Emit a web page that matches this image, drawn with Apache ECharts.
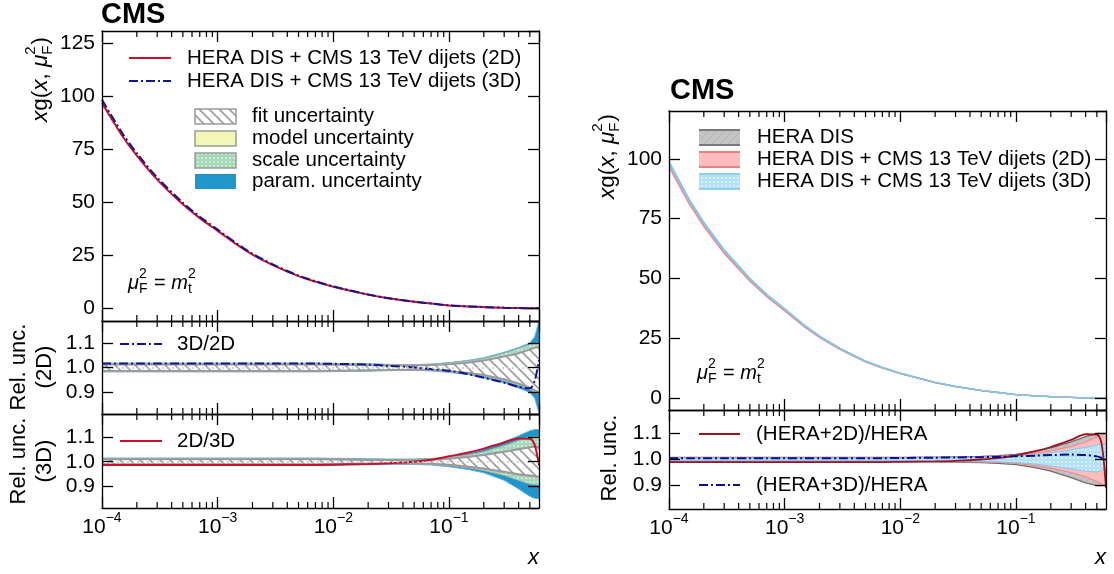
<!DOCTYPE html>
<html>
<head>
<meta charset="utf-8">
<title>CMS gluon PDF</title>
<script src="https://cdn.jsdelivr.net/npm/echarts@6.0.0/dist/echarts.min.js"></script>
<style>
html,body{margin:0;padding:0;background:#ffffff;}
#chart{width:1114px;height:574px;}
</style>
</head>
<body>
<div id="chart"></div>
<script>
// ---------------- data ----------------
const xValues = [1e-4, 1.5e-4, 2e-4, 3e-4, 5e-4, 7e-4, 1e-3, 1.5e-3, 2e-3, 3e-3, 5e-3, 7e-3, 1e-2, 2e-2, 3e-2, 5e-2, 0.07, 0.1, 0.15, 0.2, 0.3, 0.4, 0.5, 0.55, 0.6];

// left main panel: xg(x) for HERA DIS + CMS dijets (2D)
const gluon2D = [97.0, 81.4, 72.1, 60.8, 49.1, 42.6, 36.6, 29.7, 25.4, 20.4, 15.2, 12.6, 10.2, 6.45, 4.75, 3.1, 2.28, 1.38, 0.87, 0.56, 0.24, 0.095, 0.032, 0.016, 0.007];
// right main panel: xg(x) for HERA DIS
const gluonHERA = [98.0, 82.2, 72.8, 61.4, 49.6, 43.0, 37.0, 30.0, 25.7, 20.6, 15.3, 12.7, 10.3, 6.5, 4.8, 3.15, 2.3, 1.4, 0.88, 0.57, 0.24, 0.095, 0.032, 0.016, 0.007];

// left ratio panel (2D)
const ratio3Dto2D = [1.016,1.016,1.016,1.016,1.016,1.016,1.016,1.016,1.016,1.016,1.016,1.016,1.015,1.012,1.007,1.000,0.994,0.987,0.972,0.958,0.938,0.921,0.915,0.945,1.030];
const fit2DHi   = [1.012,1.012,1.012,1.012,1.012,1.012,1.012,1.012,1.012,1.012,1.012,1.012,1.011,1.009,1.008,1.008,1.010,1.013,1.020,1.028,1.044,1.058,1.073,1.080,1.086];
const fit2DLo   = [0.986,0.986,0.986,0.986,0.986,0.986,0.986,0.986,0.986,0.986,0.986,0.986,0.987,0.989,0.990,0.991,0.990,0.986,0.978,0.970,0.952,0.935,0.918,0.908,0.900];
const model2DHi = [1.013,1.013,1.013,1.013,1.013,1.013,1.013,1.013,1.013,1.013,1.013,1.013,1.012,1.010,1.009,1.009,1.011,1.015,1.022,1.030,1.046,1.060,1.075,1.082,1.088];
const model2DLo = [0.985,0.985,0.985,0.985,0.985,0.985,0.985,0.985,0.985,0.985,0.985,0.985,0.986,0.988,0.989,0.990,0.989,0.985,0.976,0.968,0.950,0.932,0.915,0.905,0.897];
const scale2DHi = [1.015,1.015,1.015,1.015,1.015,1.015,1.015,1.015,1.015,1.015,1.015,1.015,1.014,1.012,1.011,1.011,1.013,1.018,1.027,1.036,1.058,1.078,1.093,1.098,1.100];
const scale2DLo = [0.984,0.984,0.984,0.984,0.984,0.984,0.984,0.984,0.984,0.984,0.984,0.984,0.985,0.987,0.988,0.989,0.988,0.983,0.974,0.965,0.946,0.928,0.910,0.900,0.893];
const param2DHi = [1.018,1.018,1.018,1.018,1.018,1.018,1.018,1.018,1.018,1.018,1.018,1.018,1.017,1.015,1.013,1.012,1.014,1.020,1.030,1.040,1.062,1.082,1.100,1.125,1.190];
const param2DLo = [0.982,0.982,0.982,0.982,0.982,0.982,0.982,0.982,0.982,0.982,0.982,0.982,0.983,0.985,0.987,0.988,0.986,0.980,0.970,0.958,0.938,0.916,0.898,0.875,0.815];

// left ratio panel (3D)
const ratio2Dto3D = [0.987,0.987,0.987,0.987,0.987,0.987,0.987,0.987,0.987,0.987,0.987,0.987,0.988,0.991,0.994,1.000,1.008,1.022,1.038,1.053,1.078,1.094,1.093,1.068,0.985];
const fit3DHi   = [1.010,1.010,1.010,1.010,1.010,1.010,1.010,1.010,1.010,1.010,1.010,1.010,1.009,1.007,1.007,1.007,1.008,1.012,1.020,1.027,1.040,1.050,1.058,1.060,1.060];
const fit3DLo   = [0.990,0.990,0.990,0.990,0.990,0.990,0.990,0.990,0.990,0.990,0.990,0.990,0.991,0.993,0.993,0.993,0.992,0.988,0.980,0.973,0.960,0.950,0.945,0.943,0.940];
const model3DHi = [1.011,1.011,1.011,1.011,1.011,1.011,1.011,1.011,1.011,1.011,1.011,1.011,1.010,1.008,1.008,1.008,1.009,1.014,1.022,1.030,1.043,1.053,1.061,1.063,1.063];
const model3DLo = [0.989,0.989,0.989,0.989,0.989,0.989,0.989,0.989,0.989,0.989,0.989,0.989,0.990,0.992,0.992,0.992,0.991,0.986,0.977,0.970,0.956,0.946,0.940,0.938,0.936];
const scale3DHi = [1.012,1.012,1.012,1.012,1.012,1.012,1.012,1.012,1.012,1.012,1.012,1.012,1.011,1.009,1.009,1.009,1.011,1.017,1.028,1.040,1.065,1.085,1.100,1.100,1.100];
const scale3DLo = [0.988,0.988,0.988,0.988,0.988,0.988,0.988,0.988,0.988,0.988,0.988,0.988,0.989,0.991,0.991,0.991,0.990,0.985,0.975,0.965,0.945,0.925,0.910,0.908,0.905];
const param3DHi = [1.015,1.015,1.015,1.015,1.015,1.015,1.015,1.015,1.015,1.015,1.015,1.015,1.014,1.012,1.011,1.011,1.013,1.020,1.035,1.050,1.080,1.105,1.125,1.130,1.130];
const param3DLo = [0.985,0.985,0.985,0.985,0.985,0.985,0.985,0.985,0.985,0.985,0.985,0.985,0.986,0.988,0.989,0.989,0.987,0.980,0.968,0.955,0.925,0.890,0.860,0.852,0.850];

// right ratio panel
const heraHi = [1.008,1.008,1.008,1.008,1.008,1.008,1.008,1.008,1.008,1.008,1.008,1.008,1.008,1.009,1.010,1.012,1.015,1.020,1.032,1.045,1.068,1.088,1.100,1.100,1.100];
const heraLo = [0.992,0.992,0.992,0.992,0.992,0.992,0.992,0.992,0.992,0.992,0.992,0.992,0.992,0.991,0.990,0.988,0.985,0.980,0.968,0.955,0.930,0.910,0.900,0.900,0.900];
const hera2DHi = [1.006,1.006,1.006,1.006,1.006,1.006,1.006,1.006,1.006,1.006,1.006,1.006,1.006,1.007,1.008,1.009,1.011,1.015,1.024,1.033,1.050,1.068,1.087,1.095,1.098];
const hera2DLo = [0.994,0.994,0.994,0.994,0.994,0.994,0.994,0.994,0.994,0.994,0.994,0.994,0.994,0.993,0.992,0.991,0.989,0.985,0.976,0.967,0.950,0.934,0.915,0.905,0.900];
const hera3DHi = [1.005,1.005,1.005,1.005,1.005,1.005,1.005,1.005,1.005,1.005,1.005,1.005,1.005,1.006,1.007,1.008,1.009,1.012,1.018,1.025,1.037,1.047,1.055,1.058,1.060];
const hera3DLo = [0.995,0.995,0.995,0.995,0.995,0.995,0.995,0.995,0.995,0.995,0.995,0.995,0.995,0.994,0.993,0.992,0.991,0.988,0.982,0.975,0.963,0.955,0.952,0.958,0.965];
const ratioH2D = [0.990,0.990,0.990,0.990,0.990,0.990,0.990,0.990,0.990,0.990,0.990,0.990,0.991,0.993,0.995,1.000,1.005,1.016,1.033,1.048,1.075,1.097,1.096,1.060,0.890];
const ratioH3D = [1.005,1.005,1.005,1.005,1.005,1.005,1.005,1.005,1.005,1.005,1.005,1.005,1.006,1.007,1.008,1.009,1.010,1.012,1.015,1.017,1.019,1.017,1.012,1.006,1.000];

// axis ticks
const minorTicksX = [2e-4,3e-4,4e-4,5e-4,6e-4,7e-4,8e-4,9e-4, 2e-3,3e-3,4e-3,5e-3,6e-3,7e-3,8e-3,9e-3, 2e-2,3e-2,4e-2,5e-2,6e-2,7e-2,8e-2,9e-2, 0.2,0.3,0.4,0.5];
const xMin = 1e-4, xMax = 0.6;
const yRanges = [[-6, 131], [0.81, 1.19], [0.813, 1.193], [-5, 120], [0.81, 1.19]];
const yStep = [25, 0.1, 0.1, 25, 0.1];

// legend / label texts
const legendMain = ['HERA DIS + CMS 13 TeV dijets (2D)', 'HERA DIS + CMS 13 TeV dijets (3D)'];
const legendUnc = ['fit uncertainty', 'model uncertainty', 'scale uncertainty', 'param. uncertainty'];
const legendRight = ['HERA DIS', 'HERA DIS + CMS 13 TeV dijets (2D)', 'HERA DIS + CMS 13 TeV dijets (3D)'];
const legendRightRatio = ['(HERA+2D)/HERA', '(HERA+3D)/HERA'];

// ---------------- derived tables ----------------
const gluon3D = gluon2D.map((v, i) => v * ratio3Dto2D[i]);
const heraBandLo = gluonHERA.map((v, i) => v * heraLo[i]);
const heraBandHi = gluonHERA.map((v, i) => v * heraHi[i]);
const h2BandLo = gluonHERA.map((v, i) => v * ratioH2D[i] * hera2DLo[i]);
const h2BandHi = gluonHERA.map((v, i) => v * ratioH2D[i] * hera2DHi[i]);
const h3BandLo = gluonHERA.map((v, i) => v * ratioH3D[i] * hera3DLo[i]);
const h3BandHi = gluonHERA.map((v, i) => v * ratioH3D[i] * hera3DHi[i]);

// ---------------- styling helpers ----------------
const FONT = '"Liberation Sans", Arial, Helvetica, sans-serif';
const LEGEND_FONT = '20.5px ' + FONT;
const measureCtx = document.createElement('canvas').getContext('2d');

function makePattern(bg, draw, size) {
  const c = document.createElement('canvas');
  c.width = size; c.height = size;
  const g = c.getContext('2d');
  g.fillStyle = bg; g.fillRect(0, 0, size, size);
  draw(g, size);
  return { image: c, repeat: 'repeat' };
}
function backHatch(color, lw) {
  return function (g, s) {
    g.strokeStyle = color; g.lineWidth = lw; g.beginPath();
    g.moveTo(-1, -1); g.lineTo(s + 1, s + 1);
    g.moveTo(s - 3, -3); g.lineTo(s + 3, 3);
    g.moveTo(-3, s - 3); g.lineTo(3, s + 3);
    g.stroke();
  };
}
function fwdHatch(color, lw) {
  return function (g, s) {
    g.strokeStyle = color; g.lineWidth = lw; g.beginPath();
    g.moveTo(-1, s + 1); g.lineTo(s + 1, -1);
    g.moveTo(-3, 3); g.lineTo(3, -3);
    g.moveTo(s - 3, s + 3); g.lineTo(s + 3, s - 3);
    g.stroke();
  };
}
function dots(color, r) {
  return function (g, s) {
    g.fillStyle = color; g.beginPath(); g.arc(s / 2, s / 2, r, 0, Math.PI * 2); g.fill();
  };
}
const fitFill = makePattern('#ffffff', backHatch('#9c9c9c', 1.6), 10);
const scaleFill = makePattern('#a6d9b8', dots('#dcf2e3', 0.9), 4);
const modelFill = '#f2f7b5';
const paramFill = '#2196c9';
const heraFill = makePattern('#c4c4c4', fwdHatch('#b4b4b4', 1), 8);
const h2Fill = '#ffbdbd';
const h3Fill = makePattern('#b3e1f8', dots('#e9f7fe', 0.9), 4);

const RED = '#c8102e', BLUE = '#14148f', DRED = '#a3121e', DBLUE = '#0c0c94';
const DASHDOT = [9, 3, 2, 3];

// ---------------- axes ----------------
const grids = [
  { left: 102, top: 31, width: 437, height: 290 },
  { left: 102, top: 321, width: 437, height: 93 },
  { left: 102, top: 414, width: 437, height: 94 },
  { left: 669, top: 111, width: 437, height: 299 },
  { left: 669, top: 410, width: 437, height: 99 }
];
const showXLabels = [false, false, true, false, true];

function logFmt(v) {
  const l = Math.log10(v);
  const e = Math.round(l);
  if (Math.abs(l - e) > 1e-6) return '';
  return '{b|10}{s|' + (e < 0 ? '\u2212' : '') + Math.abs(e) + '}';
}
const spine = { show: true, onZero: false, lineStyle: { color: '#000', width: 1.3 } };
const tick = { show: true, inside: true, length: 11, lineStyle: { color: '#000', width: 1.3 } };

const xAxes = [], yAxes = [];
grids.forEach((g, gi) => {
  ['bottom', 'top'].forEach((pos, k) => {
    xAxes.push({
      type: 'log', logBase: 10, gridIndex: gi, position: pos, min: xMin, max: xMax, z: 6,
      axisLine: spine, axisTick: tick, splitLine: { show: false }, minorTick: { show: false },
      axisLabel: {
        show: k === 0 && showXLabels[gi], formatter: logFmt, margin: 3, showMaxLabel: false,
        rich: {
          b: { fontSize: 21, fontFamily: FONT, color: '#000', lineHeight: 27, verticalAlign: 'bottom' },
          s: { fontSize: 14, fontFamily: FONT, color: '#000', lineHeight: 27, verticalAlign: 'top' }
        }
      }
    });
  });
  ['left', 'right'].forEach((pos, k) => {
    const step = yStep[gi];
    yAxes.push({
      type: 'value', gridIndex: gi, position: pos, min: yRanges[gi][0], max: yRanges[gi][1],
      minInterval: step, maxInterval: step, z: 6,
      axisLine: spine, axisTick: tick, splitLine: { show: false },
      axisLabel: {
        show: k === 0, fontSize: 21, fontFamily: FONT, color: '#000', margin: 7,
        showMinLabel: false, showMaxLabel: false,
        formatter: function (v) {
          const q = v / step, r = Math.round(q);
          if (Math.abs(q - r) > 1e-6) return '';
          return step < 1 ? (r * step).toFixed(1) : String(Math.round(r * step));
        }
      }
    });
  });
});

// ---------------- series ----------------
function bandSeries(gi, lo, hi, fill, edge, edgeW, z) {
  const rows = xValues.map((x, i) => [x, lo[i], hi[i]]);
  return {
    type: 'custom', xAxisIndex: 2 * gi, yAxisIndex: 2 * gi, z: z, silent: true, animation: false,
    data: rows, encode: { x: 0, y: [1, 2] },
    renderItem: function (params, api) {
      if (params.dataIndex !== 0) return null;
      const cs = params.coordSys;
      const top = rows.map(r => api.coord([r[0], r[2]]));
      const bot = rows.map(r => api.coord([r[0], r[1]]));
      const kids = [{ type: 'polygon', shape: { points: top.concat(bot.slice().reverse()) }, style: { fill: fill, stroke: 'none' } }];
      if (edge) {
        kids.push({ type: 'polyline', shape: { points: top }, style: { stroke: edge, lineWidth: edgeW, fill: 'none' } });
        kids.push({ type: 'polyline', shape: { points: bot }, style: { stroke: edge, lineWidth: edgeW, fill: 'none' } });
      }
      return { type: 'group', clipPath: { type: 'rect', shape: { x: cs.x, y: cs.y, width: cs.width, height: cs.height } }, children: kids };
    }
  };
}
function lineSeries(gi, ys, color, width, dash, z, unity) {
  const s = {
    type: 'line', xAxisIndex: 2 * gi, yAxisIndex: 2 * gi, z: z, silent: true, animation: false,
    data: xValues.map((x, i) => [x, ys[i]]), symbol: 'none', showSymbol: false, smooth: 0.3, clip: true,
    lineStyle: { color: color, width: width, type: dash || 'solid' }
  };
  if (unity) {
    s.markLine = { silent: true, symbol: 'none', animation: false, label: { show: false },
      lineStyle: { color: '#c9c9c9', type: [2, 3], width: 1.6 }, data: [{ yAxis: 1 }] };
  }
  return s;
}
function minorTickSeries(gi) {
  const ymid = (yRanges[gi][0] + yRanges[gi][1]) / 2;
  return {
    type: 'custom', xAxisIndex: 2 * gi, yAxisIndex: 2 * gi, z: 7, silent: true, animation: false,
    data: minorTicksX.map(v => [v, ymid]), encode: { x: 0, y: 1 },
    renderItem: function (params, api) {
      const cs = params.coordSys;
      const px = api.coord([api.value(0), api.value(1)])[0];
      const st = { stroke: '#000', lineWidth: 1.2 };
      return { type: 'group', children: [
        { type: 'line', shape: { x1: px, y1: cs.y + cs.height, x2: px, y2: cs.y + cs.height - 6 }, style: st },
        { type: 'line', shape: { x1: px, y1: cs.y, x2: px, y2: cs.y + 6 }, style: st }
      ] };
    }
  };
}

const series = [
  // left main
  lineSeries(0, gluon2D, RED, 2, 'solid', 3),
  lineSeries(0, gluon3D, BLUE, 2, DASHDOT, 4),
  // left ratio 2D
  bandSeries(1, param2DLo, param2DHi, paramFill, '#5db3de', 1, 2),
  bandSeries(1, scale2DLo, scale2DHi, scaleFill, '#a8b8ad', 1, 2),
  bandSeries(1, model2DLo, model2DHi, modelFill, '#a0a0a0', 1, 2),
  bandSeries(1, fit2DLo, fit2DHi, fitFill, '#9a9a9a', 1.8, 2),
  lineSeries(1, ratio3Dto2D, BLUE, 2, DASHDOT, 4, true),
  // left ratio 3D
  bandSeries(2, param3DLo, param3DHi, paramFill, '#5db3de', 1, 2),
  bandSeries(2, scale3DLo, scale3DHi, scaleFill, '#a8b8ad', 1, 2),
  bandSeries(2, model3DLo, model3DHi, modelFill, '#a0a0a0', 1, 2),
  bandSeries(2, fit3DLo, fit3DHi, fitFill, '#9a9a9a', 1.8, 2),
  lineSeries(2, ratio2Dto3D, RED, 2, 'solid', 4, true),
  // right main
  bandSeries(3, heraBandLo, heraBandHi, heraFill, '#7a7a7a', 1.2, 2),
  bandSeries(3, h2BandLo, h2BandHi, h2Fill, '#f08a8a', 1.2, 2),
  bandSeries(3, h3BandLo, h3BandHi, h3Fill, '#7fc8ee', 1.2, 2),
  // right ratio
  bandSeries(4, heraLo, heraHi, heraFill, '#6e6e6e', 1.3, 2),
  bandSeries(4, hera2DLo, hera2DHi, h2Fill, '#f08a8a', 1.2, 2),
  bandSeries(4, hera3DLo, hera3DHi, h3Fill, '#7fc8ee', 1, 2),
  lineSeries(4, ratioH2D, DRED, 1.8, 'solid', 4),
  lineSeries(4, ratioH3D, DBLUE, 2, DASHDOT, 4)
];
for (let gi = 0; gi < grids.length; gi++) series.push(minorTickSeries(gi));

// ---------------- graphic texts & legends ----------------
function T(x, y, text, opt) {
  opt = opt || {};
  const align = opt.align || 'left';
  return { type: 'text', x: x, y: y, z: 100, rotation: opt.rot || 0, silent: true,
    style: { text: text, x: 0, y: 0, font: opt.font || LEGEND_FONT, fill: '#000',
      textAlign: align, textVerticalAlign: 'middle', align: align, verticalAlign: 'middle' } };
}
function L(x1, y1, x2, y2, color, w, dash) {
  return { type: 'line', z: 100, silent: true, shape: { x1: x1, y1: y1, x2: x2, y2: y2 },
    style: { stroke: color, lineWidth: w, lineDash: dash || null } };
}
function R(x, y, w, h, fill, stroke, lw) {
  return { type: 'rect', z: 100, silent: true, shape: { x: x, y: y, width: w, height: h },
    style: { fill: fill, stroke: stroke || 'none', lineWidth: lw || 0 } };
}
function mathGroup(x, y, rot, parts, fs) {
  const kids = []; let cx = 0;
  parts.forEach(p => {
    if (p.t !== undefined) {
      const f = (p.it ? 'italic ' : '') + fs + 'px ' + FONT;
      kids.push({ type: 'text', x: cx, y: 0, style: { text: p.t, font: f, fill: '#000', textAlign: 'left', textVerticalAlign: 'middle', align: 'left', verticalAlign: 'middle' } });
      measureCtx.font = f; cx += measureCtx.measureText(p.t).width;
    } else {
      const f = Math.round(fs * 0.68) + 'px ' + FONT;
      measureCtx.font = f; let w = 0;
      kids.push({ type: 'text', x: cx, y: fs * 0.32, style: { text: p.sub, font: f, fill: '#000', textAlign: 'left', textVerticalAlign: 'middle', align: 'left', verticalAlign: 'middle' } });
      w = Math.max(w, measureCtx.measureText(p.sub).width);
      kids.push({ type: 'text', x: cx, y: -fs * 0.44, style: { text: p.sup, font: f, fill: '#000', textAlign: 'left', textVerticalAlign: 'middle', align: 'left', verticalAlign: 'middle' } });
      w = Math.max(w, measureCtx.measureText(p.sup).width);
      cx += w + 1;
    }
  });
  return { type: 'group', x: x, y: y, rotation: rot, z: 100, silent: true, children: kids };
}
const yTitleParts = [{ t: 'x', it: true }, { t: 'g' }, { t: '(' }, { t: 'x', it: true }, { t: ', ' }, { t: '\u03bc', it: true }, { sub: 'F', sup: '2' }, { t: ')' }];
const scaleParts = [{ t: '\u03bc', it: true }, { sub: 'F', sup: '2' }, { t: ' = ' }, { t: 'm', it: true }, { sub: 't', sup: '2' }];
const ROT = Math.PI / 2;

const graphics = [
  T(101, 15, 'CMS', { font: 'bold 29px ' + FONT }),
  T(670, 91, 'CMS', { font: 'bold 29px ' + FONT }),
  mathGroup(41, 122, ROT, yTitleParts, 22.5),
  mathGroup(608, 199, ROT, yTitleParts, 22.5),
  mathGroup(128, 283, 0, scaleParts, 20),
  mathGroup(697, 373, 0, scaleParts, 20),
  // left main legend
  L(129, 58, 171, 58, RED, 2), T(187, 58, legendMain[0]),
  L(129, 81, 171, 81, BLUE, 2, DASHDOT), T(187, 81, legendMain[1]),
  R(195, 109, 41, 15, fitFill, '#9a9a9a', 1.5), T(252, 116, legendUnc[0]),
  R(195, 131, 41, 15, modelFill, '#9a9a9a', 1.5), T(252, 138, legendUnc[1]),
  R(195, 153, 41, 15, scaleFill, '#9a9a9a', 1.5), T(252, 160, legendUnc[2]),
  R(195, 174, 41, 15, paramFill), T(252, 181, legendUnc[3]),
  // left ratio legends
  L(120, 344, 162, 344, BLUE, 2, DASHDOT), T(177, 344, '3D/2D'),
  L(120, 441, 162, 441, RED, 2), T(177, 441, '2D/3D'),
  // left ratio titles
  T(19, 367, 'Rel. unc.', { rot: ROT, align: 'center', font: '22px ' + FONT }),
  T(45, 367, '(2D)', { rot: ROT, align: 'center', font: '22px ' + FONT }),
  T(19, 461, 'Rel. unc.', { rot: ROT, align: 'center', font: '22px ' + FONT }),
  T(45, 461, '(3D)', { rot: ROT, align: 'center', font: '22px ' + FONT }),
  // right main legend
  R(699, 130, 41, 15, heraFill), L(699, 130, 740, 130, '#7a7a7a', 2), L(699, 145, 740, 145, '#7a7a7a', 2), T(757, 137, legendRight[0]),
  R(699, 152, 41, 15, h2Fill), L(699, 152, 740, 152, '#f08080', 2), L(699, 167, 740, 167, '#f08080', 2), T(757, 159, legendRight[1]),
  R(699, 174, 41, 15, h3Fill), L(699, 174, 740, 174, '#8fd0f0', 2), L(699, 189, 740, 189, '#8fd0f0', 2), T(757, 181, legendRight[2]),
  // right ratio legend
  L(699, 434, 740, 434, DRED, 2), T(756, 434, legendRightRatio[0]),
  L(699, 485, 740, 485, DBLUE, 2, DASHDOT), T(756, 485, legendRightRatio[1]),
  T(610, 458, 'Rel. unc.', { rot: ROT, align: 'center', font: '22px ' + FONT }),
  // x titles
  T(539, 558, 'x', { align: 'right', font: 'italic 22px ' + FONT }),
  T(1106, 558, 'x', { align: 'right', font: 'italic 22px ' + FONT })
];

const chart = echarts.init(document.getElementById('chart'), null, { renderer: 'canvas' });
chart.setOption({
  animation: false,
  backgroundColor: '#ffffff',
  grid: grids.map(g => Object.assign({ containLabel: false, outerBoundsMode: 'none' }, g)),
  xAxis: xAxes,
  yAxis: yAxes,
  series: series,
  graphic: { elements: graphics }
});
</script>
</body>
</html>
